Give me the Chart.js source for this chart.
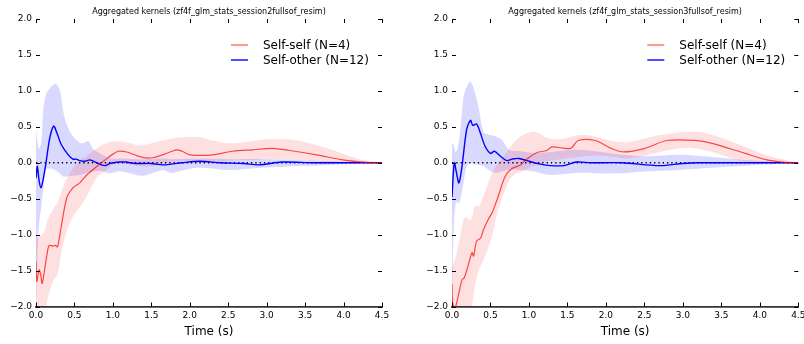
<!DOCTYPE html>
<html>
<head>
<meta charset="utf-8">
<script src="https://cdn.jsdelivr.net/npm/chart.js@4.4.0/dist/chart.umd.min.js"></script>
<style>
  body { margin: 0; background: #fff; overflow: hidden; }
  #wrap { position: relative; width: 804px; height: 344px; overflow: hidden; }
  canvas { position: absolute; top: 0; }
</style>
</head>
<body>
<div id="wrap">
  <canvas id="c1" width="400" height="344" style="left:0"></canvas>
  <canvas id="c2" width="424" height="344" style="left:400px"></canvas>
</div>
<script>
// tick values and labels
var xTicks = [0, 0.5, 1, 1.5, 2, 2.5, 3, 3.5, 4, 4.5];
var yTicks = [-2, -1.5, -1, -0.5, 0, 0.5, 1, 1.5, 2];
var seriesNames = ['Self-self (N=4)', 'Self-other (N=12)'];
var titles = [
    'Aggregated kernels (zf4f_glm_stats_session2fullsof_resim)',
    'Aggregated kernels (zf4f_glm_stats_session3fullsof_resim)'
];

// session2 - self-self mean
var s2SelfT    = [0, 0.01, 0.04, 0.06, 0.08, 0.11, 0.14, 0.17, 0.22, 0.25, 0.28, 0.33, 0.40, 0.48, 0.57, 0.66, 0.77, 0.90, 1.00, 1.07, 1.18, 1.31, 1.40, 1.52, 1.67, 1.83, 1.90, 2.00, 2.30, 2.56, 2.82, 3.08, 3.30, 3.65, 3.99, 4.30, 4.50];
var s2SelfMean = [-1.37, -1.65, -1.49, -1.55, -1.68, -1.50, -1.30, -1.15, -1.16, -1.15, -1.17, -0.88, -0.49, -0.35, -0.28, -0.17, -0.07, 0.04, 0.12, 0.16, 0.15, 0.10, 0.07, 0.07, 0.12, 0.18, 0.16, 0.11, 0.11, 0.16, 0.18, 0.20, 0.17, 0.11, 0.04, 0.005, 0];
// session2 - self-self band
var s2SelfBandT = [0, 0.10, 0.15, 0.22, 0.28, 0.33, 0.40, 0.48, 0.55, 0.66, 0.79, 0.92, 1.05, 1.20, 1.35, 1.50, 1.65, 1.85, 2.10, 2.30, 2.52, 2.80, 3.10, 3.40, 3.82, 4.17, 4.50];
var s2SelfLow   = [-2.1, -2.1, -1.9, -1.65, -1.55, -1.25, -0.95, -0.75, -0.65, -0.47, -0.21, -0.10, 0.00, -0.02, -0.05, -0.05, -0.02, 0.02, 0.00, 0.00, 0.03, 0.04, 0.05, 0.04, 0.01, 0.00, 0];
var s2SelfHigh  = [-1.05, -0.98, -0.80, -0.65, -0.55, -0.40, -0.22, -0.08, 0.02, 0.10, 0.20, 0.28, 0.30, 0.28, 0.24, 0.27, 0.31, 0.35, 0.36, 0.31, 0.27, 0.30, 0.33, 0.31, 0.19, 0.06, 0];

// session2 - self-other mean
var s2OtherT    = [0, 0.017, 0.04, 0.065, 0.09, 0.13, 0.18, 0.23, 0.27, 0.33, 0.42, 0.48, 0.52, 0.57, 0.63, 0.70, 0.75, 0.79, 0.85, 0.90, 0.96, 1.10, 1.16, 1.30, 1.50, 1.65, 1.90, 2.13, 2.40, 2.70, 2.90, 3.20, 3.60, 4.50];
var s2OtherMean = [-0.21, -0.05, -0.25, -0.35, -0.25, 0.00, 0.35, 0.51, 0.42, 0.25, 0.11, 0.05, 0.05, 0.03, 0.02, 0.04, 0.02, 0.00, -0.03, -0.04, -0.01, 0.01, 0.01, -0.01, -0.01, -0.03, 0.00, 0.02, 0.00, -0.01, -0.03, 0.01, 0.00, 0];
// session2 - self-other band
var s2OtherBandT = [0, 0.02, 0.04, 0.07, 0.095, 0.13, 0.16, 0.25, 0.31, 0.35, 0.40, 0.48, 0.57, 0.61, 0.68, 0.74, 0.87, 0.96, 1.10, 1.39, 1.65, 1.76, 2.09, 2.52, 2.95, 3.39, 3.82, 4.50];
var s2OtherLow   = [-2.05, -1.3, -0.85, -0.6, -0.35, -0.10, -0.08, -0.10, -0.15, -0.19, -0.19, -0.18, -0.17, -0.16, -0.14, -0.12, -0.12, -0.15, -0.12, -0.18, -0.10, -0.14, -0.07, -0.10, -0.07, -0.05, -0.03, 0];
var s2OtherHigh  = [0.46, 0.30, 0.20, 0.30, 0.74, 0.95, 1.01, 1.10, 1.01, 0.74, 0.53, 0.37, 0.28, 0.27, 0.30, 0.20, 0.11, 0.06, 0.06, 0.05, 0.06, 0.05, 0.06, 0.05, 0.05, 0.04, 0.02, 0];

// session3 - self-self mean
var s3SelfT    = [0, 0.01, 0.04, 0.09, 0.13, 0.16, 0.22, 0.26, 0.28, 0.32, 0.37, 0.41, 0.48, 0.52, 0.60, 0.69, 0.78, 0.89, 0.97, 1.10, 1.23, 1.30, 1.54, 1.64, 1.86, 2.07, 2.23, 2.51, 2.79, 3.16, 3.38, 3.81, 4.09, 4.30, 4.50];
var s3SelfMean = [-1.69, -1.97, -2.02, -1.81, -1.63, -1.60, -1.39, -1.25, -1.30, -1.09, -1.05, -0.93, -0.77, -0.70, -0.47, -0.19, -0.08, -0.03, 0.05, 0.14, 0.17, 0.22, 0.20, 0.31, 0.31, 0.20, 0.15, 0.20, 0.31, 0.31, 0.27, 0.13, 0.04, 0.01, 0];
// session3 - self-self band
var s3SelfBandT = [0, 0.05, 0.10, 0.17, 0.24, 0.30, 0.35, 0.43, 0.52, 0.60, 0.69, 0.78, 0.91, 1.05, 1.15, 1.23, 1.41, 1.67, 1.84, 2.10, 2.30, 2.58, 2.94, 3.16, 3.38, 3.74, 4.10, 4.50];
var s3SelfLow   = [-2.1, -2.1, -2.1, -2.1, -2.05, -1.7, -1.49, -1.30, -1.02, -0.65, -0.38, -0.19, -0.12, -0.05, 0.00, 0.02, 0.05, 0.08, 0.10, 0.08, 0.06, 0.12, 0.20, 0.20, 0.15, 0.03, 0.00, 0];
var s3SelfHigh  = [-1.45, -1.3, -1.05, -0.75, -0.80, -0.60, -0.60, -0.40, -0.15, 0.00, 0.12, 0.25, 0.38, 0.43, 0.40, 0.35, 0.33, 0.39, 0.37, 0.30, 0.29, 0.36, 0.42, 0.43, 0.39, 0.25, 0.10, 0];

// session3 - self-other mean
var s3OtherT    = [0, 0.03, 0.06, 0.09, 0.13, 0.19, 0.24, 0.27, 0.32, 0.37, 0.43, 0.50, 0.55, 0.63, 0.71, 0.78, 0.87, 0.97, 1.15, 1.28, 1.45, 1.62, 1.80, 2.20, 2.70, 3.00, 3.20, 4.50];
var s3OtherMean = [-0.48, 0.00, -0.15, -0.28, -0.05, 0.46, 0.59, 0.52, 0.54, 0.41, 0.23, 0.13, 0.16, 0.09, 0.03, 0.05, 0.06, 0.03, -0.02, -0.04, -0.04, 0.01, 0.00, 0.00, -0.04, -0.01, 0.00, 0];
// session3 - self-other band
var s3OtherBandT = [0, 0.02, 0.05, 0.09, 0.12, 0.15, 0.19, 0.24, 0.30, 0.35, 0.41, 0.48, 0.56, 0.65, 0.74, 0.89, 1.06, 1.28, 1.64, 2.08, 2.51, 2.94, 3.38, 3.81, 4.50];
var s3OtherLow   = [-2.05, -1.0, -0.55, -0.56, -0.45, -0.28, -0.05, 0.00, -0.02, -0.03, -0.05, -0.10, -0.14, -0.12, -0.10, -0.10, -0.12, -0.17, -0.14, -0.15, -0.12, -0.10, -0.07, -0.04, 0];
var s3OtherHigh  = [0.28, 0.25, 0.15, 0.30, 0.60, 0.92, 1.05, 1.13, 0.97, 0.74, 0.43, 0.39, 0.37, 0.32, 0.18, 0.16, 0.14, 0.15, 0.18, 0.13, 0.09, 0.11, 0.08, 0.04, 0];

var redLine = 'rgba(255, 0, 0, 0.7)';
var blueLine = 'rgba(0, 0, 255, 1)';
var redFill = 'rgba(255, 0, 0, 0.12)';
var blueFill = 'rgba(0, 0, 255, 0.15)';

function pts(t, v) {
    return t.map(function(x, i) { return { x: x, y: v[i] }; });
}

function fmt(v) {
    var s = Math.abs(v).toFixed(1);
    return v < 0 ? '\u2212' + s : s;
}

// draws inward ticks, title and legend the way matplotlib did
var decorPlugin = {
    id: 'decor',
    afterDraw: function(chart, args, opts) {
        var ctx = chart.ctx;
        var a = chart.chartArea;
        var xs = chart.scales.x, ys = chart.scales.y;
        ctx.save();
        ctx.strokeStyle = '#000';
        ctx.lineWidth = 1;
        ctx.beginPath();
        xTicks.forEach(function(v) {
            var px = Math.round(xs.getPixelForValue(v)) + 0.5;
            ctx.moveTo(px, a.top); ctx.lineTo(px, a.top + 4);
            ctx.moveTo(px, a.bottom); ctx.lineTo(px, a.bottom - 4);
        });
        yTicks.forEach(function(v) {
            var py = Math.round(ys.getPixelForValue(v)) + 0.5;
            ctx.moveTo(a.left, py); ctx.lineTo(a.left + 4, py);
            ctx.moveTo(a.right, py); ctx.lineTo(a.right - 4, py);
        });
        ctx.stroke();

        // title
        ctx.fillStyle = '#000';
        ctx.font = '8px "DejaVu Sans"';
        ctx.textAlign = 'center';
        ctx.textBaseline = 'middle';
        ctx.fillText(opts.title, (a.left + a.right) / 2, 12);

        // legend
        ctx.font = '12px "DejaVu Sans"';
        ctx.textAlign = 'left';
        var legendSets = chart.data.datasets.filter(function(d) { return d.inLegend; });
        legendSets.forEach(function(d, i) {
            var y = a.top + 26 + i * 15;
            ctx.strokeStyle = d.borderColor;
            ctx.lineWidth = d.borderWidth;
            ctx.beginPath();
            ctx.moveTo(a.right - 151, y);
            ctx.lineTo(a.right - 134, y);
            ctx.stroke();
            ctx.fillText(d.label, a.right - 119, y + 1);
        });
        ctx.restore();
    }
};

function makeChart(id, title, yWidth, padRight, selfT, selfMean, selfBandT, selfLow, selfHigh, otherT, otherMean, otherBandT, otherLow, otherHigh) {
    var ctx = document.getElementById(id).getContext('2d');
    return new Chart(ctx, {
        type: 'line',
        data: {
            datasets: [
                { label: seriesNames[0], data: pts(selfT, selfMean), borderColor: redLine, borderWidth: 1.2, pointRadius: 0, tension: 0.3, fill: false, order: 0, inLegend: true },
                { label: seriesNames[1], data: pts(otherT, otherMean), borderColor: blueLine, borderWidth: 1.4, pointRadius: 0, tension: 0.3, fill: false, order: 1, inLegend: true },
                { label: 'zero', data: [{ x: 0, y: 0 }, { x: 4.5, y: 0 }], borderColor: '#000', borderWidth: 1.3, borderDash: [1.3, 3], pointRadius: 0, fill: false, order: 2 },
                { label: 'selfHigh', data: pts(selfBandT, selfHigh), borderWidth: 0, borderColor: 'rgba(0,0,0,0)', backgroundColor: redFill, pointRadius: 0, tension: 0.35, fill: '+1', order: 3 },
                { label: 'selfLow', data: pts(selfBandT, selfLow), borderWidth: 0, borderColor: 'rgba(0,0,0,0)', pointRadius: 0, tension: 0.35, fill: false, order: 3 },
                { label: 'otherHigh', data: pts(otherBandT, otherHigh), borderWidth: 0, borderColor: 'rgba(0,0,0,0)', backgroundColor: blueFill, pointRadius: 0, tension: 0.35, fill: '+1', order: 4 },
                { label: 'otherLow', data: pts(otherBandT, otherLow), borderWidth: 0, borderColor: 'rgba(0,0,0,0)', pointRadius: 0, tension: 0.35, fill: false, order: 4 }
            ]
        },
        options: {
            responsive: false,
            animation: false,
            layout: { padding: { left: 0, right: padRight, top: 19, bottom: 0 } },
            plugins: {
                legend: { display: false },
                tooltip: { enabled: false },
                decor: { title: title }
            },
            scales: {
                x: {
                    type: 'linear',
                    min: 0,
                    max: 4.5,
                    afterBuildTicks: function(s) { s.ticks = xTicks.map(function(v) { return { value: v }; }); },
                    afterFit: function(s) { s.height = 37.5; },
                    grid: { display: false, drawTicks: false },
                    border: { display: true, color: '#333', width: 1.8 },
                    ticks: {
                        padding: 4,
                        maxRotation: 0,
                        autoSkip: false,
                        color: '#000',
                        font: { family: 'DejaVu Sans', size: 9 },
                        callback: function(v) { return fmt(v); }
                    },
                    title: {
                        display: true,
                        text: 'Time (s)',
                        color: '#000',
                        font: { family: 'DejaVu Sans', size: 12 },
                        padding: { top: 0, bottom: 4.8 }
                    }
                },
                y: {
                    min: -2,
                    max: 2,
                    afterBuildTicks: function(s) { s.ticks = yTicks.map(function(v) { return { value: v }; }); },
                    afterFit: function(s) { s.width = yWidth; },
                    grid: { display: false, drawTicks: false },
                    border: { display: false },
                    ticks: {
                        padding: 4,
                        color: '#000',
                        font: { family: 'DejaVu Sans', size: 9 },
                        callback: function(v) { return fmt(v); }
                    }
                }
            }
        },
        plugins: [decorPlugin]
    });
}

makeChart('c1', titles[0], 36, 18, s2SelfT, s2SelfMean, s2SelfBandT, s2SelfLow, s2SelfHigh, s2OtherT, s2OtherMean, s2OtherBandT, s2OtherLow, s2OtherHigh);
makeChart('c2', titles[1], 52, 25.7, s3SelfT, s3SelfMean, s3SelfBandT, s3SelfLow, s3SelfHigh, s3OtherT, s3OtherMean, s3OtherBandT, s3OtherLow, s3OtherHigh);
</script>
</body>
</html>
